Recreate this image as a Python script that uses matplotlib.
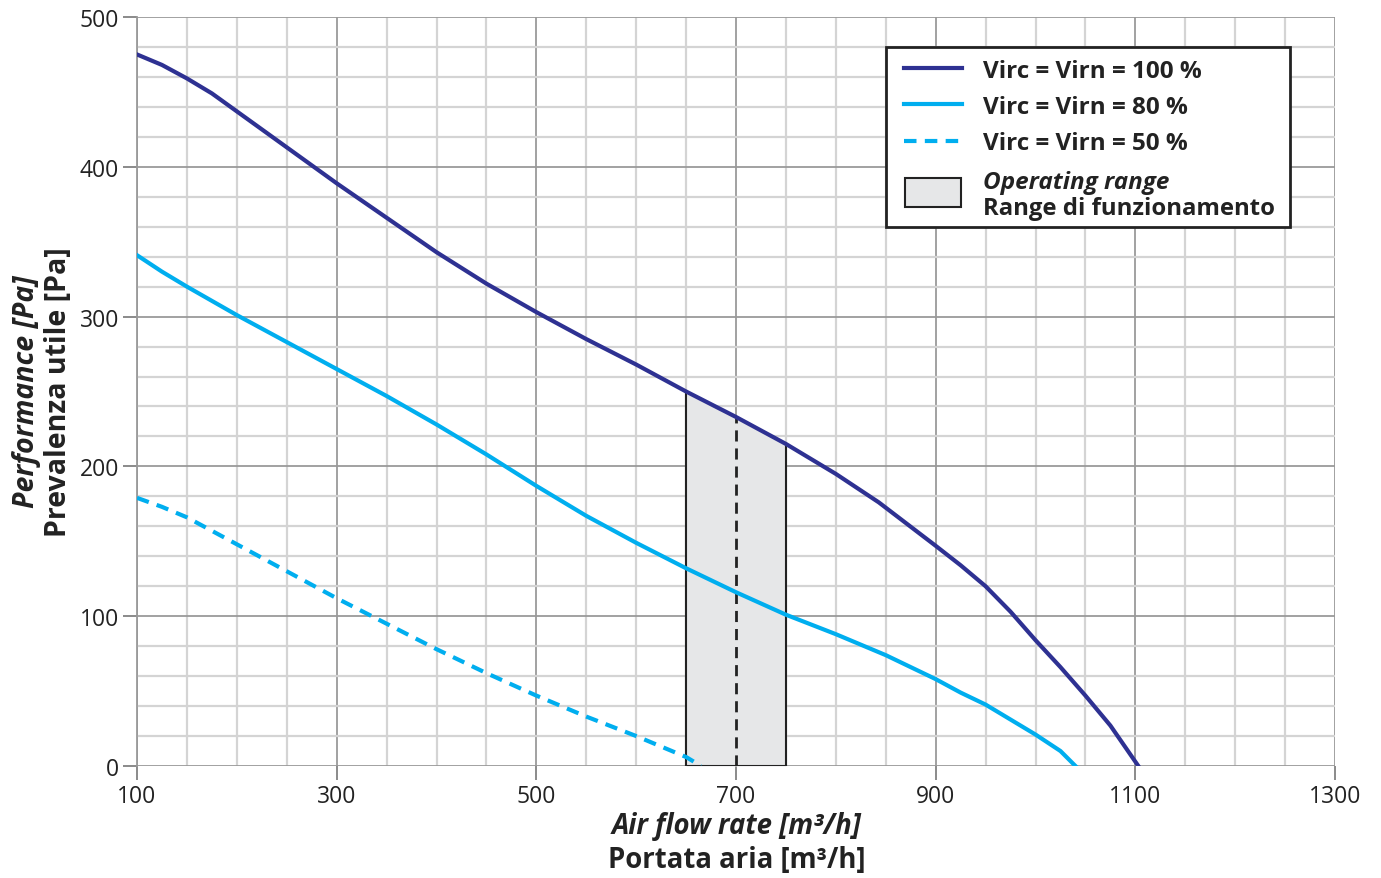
import numpy as np
import matplotlib.pyplot as plt
from matplotlib.patches import Rectangle
from matplotlib.lines import Line2D

plt.rcParams['font.family'] = ['Open Sans', 'DejaVu Sans']

# curve (portata m3/h, prevalenza Pa)
x_100 = [100, 125, 150, 175, 200, 250, 300, 350, 400, 450, 500, 550, 600, 650, 700,
         750, 800, 843, 900, 925, 950, 975, 1000, 1025, 1050, 1075, 1103]
y_100 = [475, 468, 459, 449, 437, 413, 389, 366, 343, 322, 303, 285, 268, 250, 233,
         215, 195, 176, 147, 134, 120, 103, 84, 66, 47, 27, 0]

x_80 = [100, 125, 150, 200, 250, 300, 350, 400, 450, 500, 550, 600, 650, 700,
        750, 800, 850, 900, 925, 950, 975, 1000, 1025, 1040]
y_80 = [341, 330, 320, 301, 283, 265, 247, 228, 208, 187, 167, 149, 132, 116,
        101, 88, 74, 58, 49, 41, 31, 21, 10, 0]

x_50 = [100, 125, 150, 200, 250, 300, 350, 400, 450, 500, 550, 600, 650, 665]
y_50 = [179, 173, 166, 148, 130, 112, 95, 78, 62, 47, 33, 20, 6, 0]

# range di funzionamento
range_x = [650, 700, 750]
range_y = [250, 233, 215]
x_nom = 700
y_nom = 233

labels = ['Virc = Virn = 100 %', 'Virc = Virn = 80 %', 'Virc = Virn = 50 %']
c_blu = '#2e3192'
c_ciano = '#00aeef'

fig = plt.figure(figsize=(13.81, 8.79), dpi=100)
ax = fig.add_axes([137/1381, 1 - 767/879, 1198/1381, 749/879])

ax.set_xlim(100, 1300)
ax.set_ylim(0, 500)
ax.set_xticks(np.arange(100, 1301, 200))
ax.set_xticks(np.arange(100, 1301, 50), minor=True)
ax.set_yticks(np.arange(0, 501, 100))
ax.set_yticks(np.arange(0, 501, 20), minor=True)
ax.grid(which='minor', color='#d4d4d4', lw=1.6, zorder=0)
ax.grid(which='major', color='#9a9a9a', lw=1.3, zorder=0)
ax.set_axisbelow(True)
for s in ['top', 'right', 'bottom']:
    ax.spines[s].set_visible(False)
ax.spines['left'].set_color('#9a9a9a')
ax.spines['left'].set_linewidth(1.3)
ax.tick_params(which='minor', length=0)
ax.tick_params(which='major', length=10, width=1.2, color='#777777',
               labelsize=16.5, labelcolor='#222222', pad=3)

# area del range
ax.fill_between(range_x, 0, range_y, color='#e6e7e8', zorder=1, lw=0)
ax.plot([range_x[0], range_x[0]], [0, range_y[0]], color='#222222', lw=1.5, zorder=2)
ax.plot([range_x[-1], range_x[-1]], [0, range_y[-1]], color='#222222', lw=1.5, zorder=2)
ax.plot([range_x[0], range_x[-1]], [0, 0], color='#222222', lw=1.5, zorder=2)
ax.plot([x_nom, x_nom], [0, y_nom], color='#222222', lw=2, ls=(0, (4, 2.5)), zorder=2)

ax.plot(x_100, y_100, color=c_blu, lw=3, zorder=3)
ax.plot(x_80, y_80, color=c_ciano, lw=3, zorder=3)
ax.plot(x_50, y_50, color=c_ciano, lw=3, ls=(0, (3, 2)), zorder=3)

# etichette assi
fig.text(737/1381, 1 - 827/879, 'Air flow rate [m³/h]', ha='center', va='center',
         fontsize=19.8, fontweight='bold', style='italic', color='#222222')
fig.text(737/1381, 1 - 861/879, 'Portata aria [m³/h]', ha='center', va='center',
         fontsize=19.8, fontweight='bold', color='#222222')
fig.text(27/1381, 1 - 392/879, 'Performance [Pa]', ha='center', va='center',
         rotation=90, fontsize=20.5, fontweight='bold', style='italic', color='#222222')
fig.text(59/1381, 1 - 392/879, 'Prevalenza utile [Pa]', ha='center', va='center',
         rotation=90, fontsize=20.5, fontweight='bold', color='#222222')

# legenda disegnata a mano
def fx(px):
    return px / 1381
def fy(py):
    return 1 - py / 879

fig.patches.append(Rectangle((fx(886), fy(228)), fx(1290) - fx(886), fy(48) - fy(228),
                             transform=fig.transFigure, facecolor='white',
                             edgecolor='#222222', lw=2, zorder=5))
stili = [(c_blu, '-'), (c_ciano, '-'), (c_ciano, (0, (3, 2)))]
ys = [69, 105, 142]
for (col, ls), lab, py in zip(stili, labels, ys):
    fig.lines.append(Line2D([fx(904), fx(962)], [fy(py), fy(py)], color=col, lw=3,
                            ls=ls, transform=fig.transFigure, zorder=6))
    fig.text(fx(983), fy(py + 2.5), lab, ha='left', va='center', fontsize=17.5,
             fontweight='bold', color='#222222', zorder=6)
fig.patches.append(Rectangle((fx(905), fy(208)), fx(961) - fx(905), fy(179) - fy(208),
                             transform=fig.transFigure, facecolor='#e6e7e8',
                             edgecolor='#222222', lw=1.5, zorder=6))
fig.text(fx(983), fy(183), 'Operating range', ha='left', va='center', fontsize=17.5,
         fontweight='bold', style='italic', color='#222222', zorder=6)
fig.text(fx(983), fy(209), 'Range di funzionamento', ha='left', va='center', fontsize=17.2,
         fontweight='bold', color='#222222', zorder=6)

fig.savefig('out.png', dpi=100)
